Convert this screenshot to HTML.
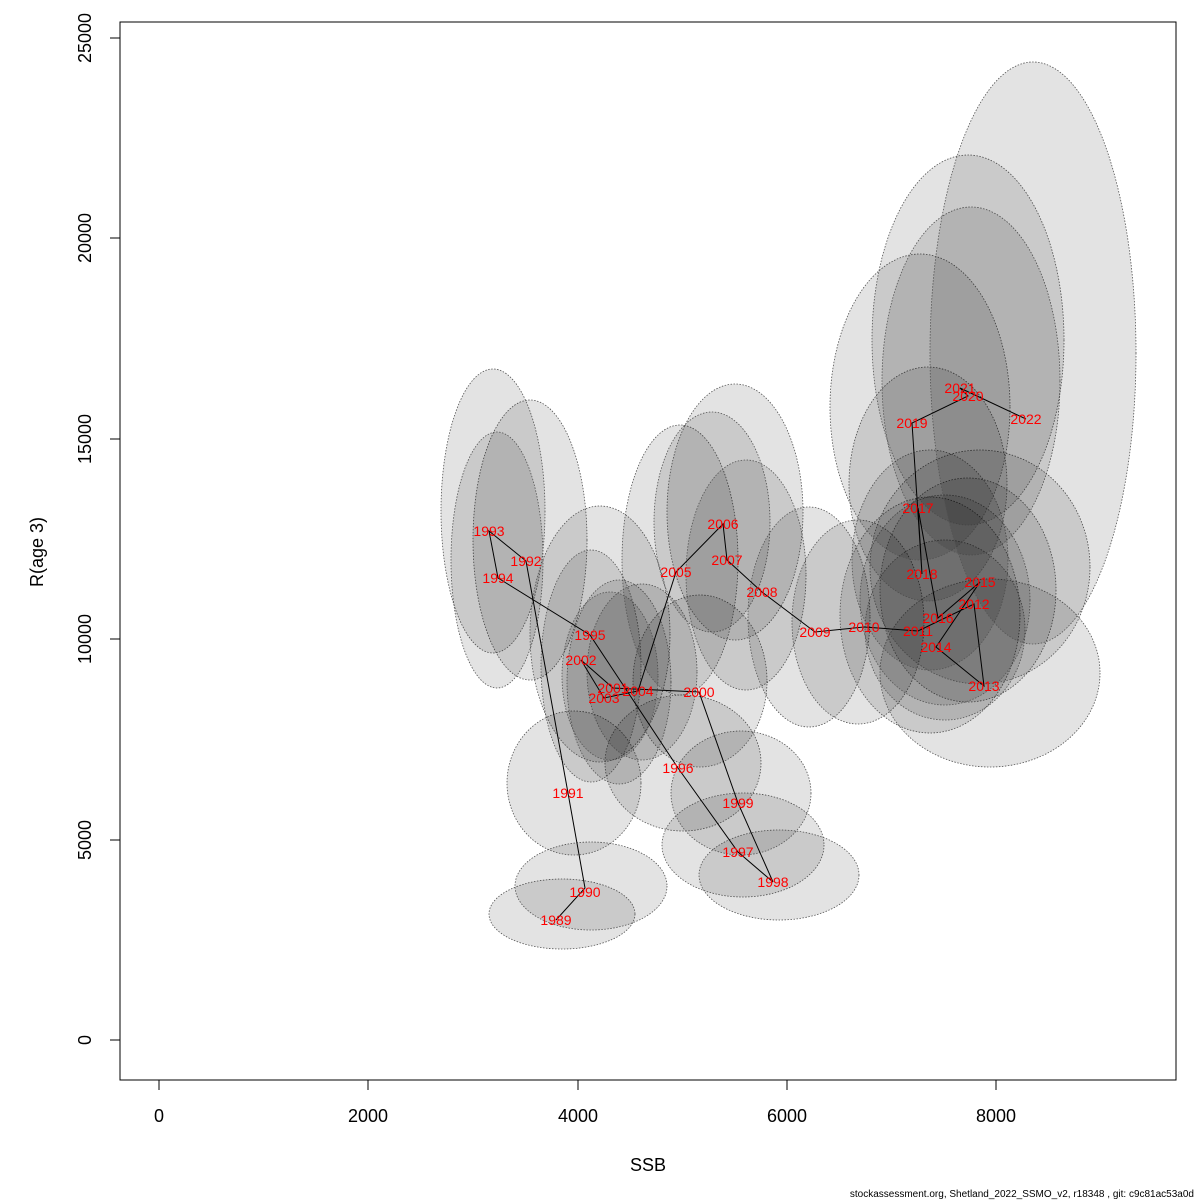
<!DOCTYPE html>
<html><head><meta charset="utf-8"><style>body{margin:0;background:#fff}svg{display:block}</style></head><body>
<svg width="1200" height="1200" xmlns="http://www.w3.org/2000/svg" font-family="Liberation Sans, sans-serif">
<rect width="1200" height="1200" fill="#fff"/>
<g fill="rgba(0,0,0,0.11)" stroke="#555" stroke-width="0.8" stroke-dasharray="1.5,1.5">
<ellipse cx="562" cy="914" rx="73" ry="35"/>
<ellipse cx="591" cy="886" rx="76" ry="44"/>
<ellipse cx="574" cy="783" rx="67" ry="72"/>
<ellipse cx="530" cy="540" rx="57" ry="140"/>
<ellipse cx="493" cy="511" rx="52" ry="142"/>
<ellipse cx="497" cy="560" rx="46" ry="128"/>
<ellipse cx="600" cy="634" rx="70" ry="128"/>
<ellipse cx="683" cy="763" rx="78" ry="68"/>
<ellipse cx="743" cy="845" rx="81" ry="52"/>
<ellipse cx="779" cy="875" rx="80" ry="45"/>
<ellipse cx="741" cy="793" rx="70" ry="62"/>
<ellipse cx="700" cy="681" rx="67" ry="86"/>
<ellipse cx="591" cy="666" rx="50" ry="116"/>
<ellipse cx="619" cy="682" rx="52" ry="102"/>
<ellipse cx="642" cy="672" rx="55" ry="88"/>
<ellipse cx="610" cy="676" rx="48" ry="84"/>
<ellipse cx="680" cy="560" rx="58" ry="135"/>
<ellipse cx="735" cy="512" rx="68" ry="128"/>
<ellipse cx="712" cy="522" rx="58" ry="110"/>
<ellipse cx="746" cy="575" rx="60" ry="115"/>
<ellipse cx="809" cy="617" rx="61" ry="110"/>
<ellipse cx="858" cy="622" rx="66" ry="102"/>
<ellipse cx="930" cy="615" rx="90" ry="118"/>
<ellipse cx="968" cy="590" rx="88" ry="112"/>
<ellipse cx="990" cy="673" rx="110" ry="94"/>
<ellipse cx="945" cy="630" rx="80" ry="90"/>
<ellipse cx="980" cy="567" rx="110" ry="117"/>
<ellipse cx="945" cy="600" rx="85" ry="105"/>
<ellipse cx="928" cy="484" rx="79" ry="117"/>
<ellipse cx="930" cy="560" rx="78" ry="110"/>
<ellipse cx="920" cy="407" rx="90" ry="153"/>
<ellipse cx="968" cy="340" rx="96" ry="185"/>
<ellipse cx="971" cy="381" rx="89" ry="174"/>
<ellipse cx="1033" cy="353" rx="103" ry="291"/>
</g>
<polyline fill="none" stroke="#000" stroke-width="1" points="556,920 585,888 568,793 526,561 489,531 498,578 590,635 678,768 738,852 773,882 738,803 699,692 613,688 581,660 604,698 638,691 676,572 723,524 727,560 762,592 815,632 864,627 918,631 974,604 984,686 936,647 980,582 938,618 918,508 922,574 912,423 968,396 960,388 1026,419"/>
<g fill="#f00" font-size="14" text-anchor="middle" dominant-baseline="central">
<text x="556" y="920">1989</text><text x="585" y="892">1990</text><text x="568" y="793">1991</text><text x="526" y="561">1992</text><text x="489" y="531">1993</text><text x="498" y="578">1994</text><text x="590" y="635">1995</text><text x="678" y="768">1996</text><text x="738" y="852">1997</text><text x="773" y="882">1998</text><text x="738" y="803">1999</text><text x="699" y="692">2000</text><text x="613" y="688">2001</text><text x="581" y="660">2002</text><text x="604" y="698">2003</text><text x="638" y="691">2004</text><text x="676" y="572">2005</text><text x="723" y="524">2006</text><text x="727" y="560">2007</text><text x="762" y="592">2008</text><text x="815" y="632">2009</text><text x="864" y="627">2010</text><text x="918" y="631">2011</text><text x="974" y="604">2012</text><text x="984" y="686">2013</text><text x="936" y="647">2014</text><text x="980" y="582">2015</text><text x="938" y="618">2016</text><text x="918" y="508">2017</text><text x="922" y="574">2018</text><text x="912" y="423">2019</text><text x="968" y="396">2020</text><text x="960" y="388">2021</text><text x="1026" y="419">2022</text>
</g>
<rect x="120" y="22" width="1056" height="1058" fill="none" stroke="#000" stroke-width="1"/>
<g stroke="#000" stroke-width="1">
<line x1="159" y1="1080" x2="996" y2="1080" transform="translate(0,0)"/>
<line x1="159" y1="1080" x2="159" y2="1090"/><line x1="368" y1="1080" x2="368" y2="1090"/><line x1="578" y1="1080" x2="578" y2="1090"/><line x1="787" y1="1080" x2="787" y2="1090"/><line x1="996" y1="1080" x2="996" y2="1090"/>
<line x1="120" y1="38" x2="120" y2="1040"/>
<line x1="110" y1="1040" x2="120" y2="1040"/><line x1="110" y1="840" x2="120" y2="840"/><line x1="110" y1="639" x2="120" y2="639"/><line x1="110" y1="439" x2="120" y2="439"/><line x1="110" y1="238" x2="120" y2="238"/><line x1="110" y1="38" x2="120" y2="38"/>
</g>
<g font-size="18" text-anchor="middle">
<text x="159" y="1122">0</text><text x="368" y="1122">2000</text><text x="578" y="1122">4000</text><text x="787" y="1122">6000</text><text x="996" y="1122">8000</text>
<text transform="translate(91,1040) rotate(-90)">0</text>
<text transform="translate(91,840) rotate(-90)">5000</text>
<text transform="translate(91,639) rotate(-90)">10000</text>
<text transform="translate(91,439) rotate(-90)">15000</text>
<text transform="translate(91,238) rotate(-90)">20000</text>
<text transform="translate(91,38) rotate(-90)">25000</text>
<text x="648" y="1171">SSB</text>
<text transform="translate(43,552) rotate(-90)">R(age 3)</text>
</g>
<text x="1194" y="1197" font-size="10" text-anchor="end">stockassessment.org, Shetland_2022_SSMO_v2, r18348 , git: c9c81ac53a0d</text>
</svg>
</body></html>
